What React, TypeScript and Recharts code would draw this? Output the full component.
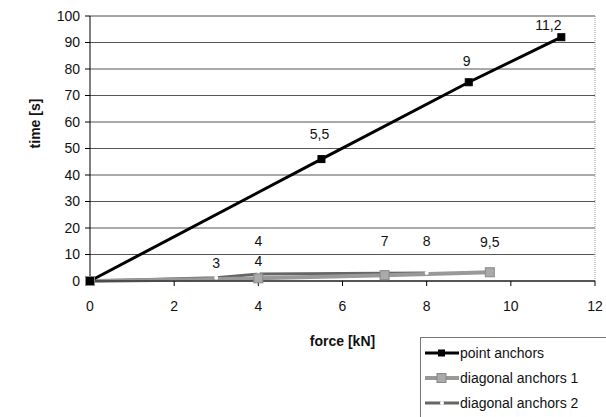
import { LineChart, Line, XAxis, YAxis, CartesianGrid, LabelList, ReferenceLine } from "recharts";

const pointForce = [0, 5.5, 9, 11.2];
const pointTime = [0, 46, 75, 92];
const pointLabels = ["", "5,5", "9", "11,2"];

const diag1Force = [0, 4, 7, 9.5];
const diag1Time = [0, 1, 2.2, 3.3];
const diag1Labels = ["", "4", "7", "9,5"];

const diag2Force = [0, 3, 4, 8];
const diag2Time = [0, 1.2, 2.6, 3];
const diag2Labels = ["", "3", "4", "8"];

const xTicks = [0, 2, 4, 6, 8, 10, 12];
const yTicks = [0, 10, 20, 30, 40, 50, 60, 70, 80, 90, 100];

const FONT = "'Liberation Sans', Arial, sans-serif";

const build = (xs: number[], ys: number[], labels: string[]) =>
  xs.map((x, i) => ({ x, y: ys[i], label: labels[i] }));

const pointData = build(pointForce, pointTime, pointLabels);
const diag1Data = build(diag1Force, diag1Time, diag1Labels);
const diag2Data = build(diag2Force, diag2Time, diag2Labels);

// label lift above the point, per series
const makeLabel = (lift: (i: number) => number, shift: (i: number) => number = () => 0) =>
  (props: any) => {
    const { x, y, value, index } = props;
    if (!value) return null;
    return (
      <text
        x={x + shift(index)}
        y={y - lift(index)}
        textAnchor="middle"
        fontSize={14}
        fontFamily={FONT}
        fill="#111"
      >
        {value}
      </text>
    );
  };

const SquareDot = ({ size, fill, stroke }: { size: number; fill: string; stroke: string }) =>
  (props: any) => {
    const { cx, cy, index } = props;
    if (cx == null || cy == null) return <g key={index} />;
    return (
      <rect
        key={index}
        x={cx - size / 2}
        y={cy - size / 2}
        width={size}
        height={size}
        fill={fill}
        stroke={stroke}
        strokeWidth={1}
      />
    );
  };

function LegendBox() {
  const row = (color: string, width: number, marker: JSX.Element, text: string, top: number) => (
    <div style={{ position: "absolute", left: 4, top, height: 16, display: "flex", alignItems: "center" }}>
      <svg width={34} height={12}>
        <line x1={0} y1={6} x2={34} y2={6} stroke={color} strokeWidth={width} />
        {marker}
      </svg>
      <span style={{ marginLeft: 1, fontSize: 14, lineHeight: "16px", fontFamily: FONT, color: "#111" }}>{text}</span>
    </div>
  );
  return (
    <div
      style={{
        position: "absolute",
        left: 420,
        top: 337,
        width: 190,
        height: 90,
        border: "1px solid #777",
        background: "#fff",
      }}
    >
      {row("#000", 3, <rect x={13} y={2.5} width={7} height={7} fill="#000" />, "point anchors", 7)}
      {row("#999", 4, <rect x={12} y={1.5} width={9} height={9} fill="#aaa" stroke="#888" />, "diagonal anchors 1", 32)}
      {row("#666", 3, <circle cx={17} cy={6} r={2} fill="#fff" />, "diagonal anchors 2", 57)}
    </div>
  );
}

export default function App() {
  return (
    <div style={{ position: "absolute", left: 0, top: 0, width: 606, height: 417, background: "#fff", overflow: "hidden" }}>
      <LineChart
        width={606}
        height={417}
        margin={{ top: 16, right: 11, bottom: 66, left: 30 }}
      >
        <CartesianGrid stroke="#555" strokeWidth={1} vertical={false} />
        <ReferenceLine x={12} stroke="#999" strokeDasharray="1 1" />
        <ReferenceLine y={100} stroke="#999" strokeDasharray="1 1" />
        <XAxis
          type="number"
          dataKey="x"
          domain={[0, 12]}
          ticks={xTicks}
          allowDuplicatedCategory={false}
          stroke="#000"
          tickLine={{ stroke: "#000" }}
          tickSize={5}
          height={70}
          tick={{ fontSize: 14, fontFamily: FONT, fill: "#111", dy: 13 }}
          label={{
            value: "force [kN]",
            position: "insideBottom",
            offset: 5,
            style: { fontSize: 14, fontWeight: "bold", fontFamily: FONT, fill: "#111" },
          }}
        />
        <YAxis
          type="number"
          domain={[0, 100]}
          ticks={yTicks}
          stroke="#000"
          tickSize={5}
          width={60}
          tick={{ fontSize: 14, fontFamily: FONT, fill: "#111", dx: -3 }}
          label={{
            value: "time [s]",
            angle: -90,
            position: "insideLeft",
            offset: 0,
            dx: 5,
            dy: -25,
            style: { fontSize: 14, fontWeight: "bold", fontFamily: FONT, fill: "#111", textAnchor: "middle" },
          }}
        />
        <Line
          data={diag2Data}
          dataKey="y"
          stroke="#666"
          strokeWidth={3}
          isAnimationActive={false}
          dot={(p: any) => <circle key={p.index} cx={p.cx} cy={p.cy} r={2} fill="#fff" />}
        >
          <LabelList dataKey="label" content={makeLabel((i) => (i === 3 ? 27 : i === 2 ? 8 : 10))} />
        </Line>
        <Line
          data={diag1Data}
          dataKey="y"
          stroke="#999"
          strokeWidth={4}
          isAnimationActive={false}
          dot={SquareDot({ size: 9, fill: "#aaa", stroke: "#888" })}
        >
          <LabelList dataKey="label" content={makeLabel((i) => (i === 3 ? 25 : i === 1 ? 32 : 29))} />
        </Line>
        <Line
          data={pointData}
          dataKey="y"
          stroke="#000"
          strokeWidth={3}
          isAnimationActive={false}
          dot={SquareDot({ size: 7, fill: "#000", stroke: "#000" })}
        >
          <LabelList
            dataKey="label"
            content={makeLabel((i) => [0, 20, 16, 7][i], (i) => (i === 3 ? -13 : -2))}
          />
        </Line>
      </LineChart>
      <LegendBox />
    </div>
  );
}
